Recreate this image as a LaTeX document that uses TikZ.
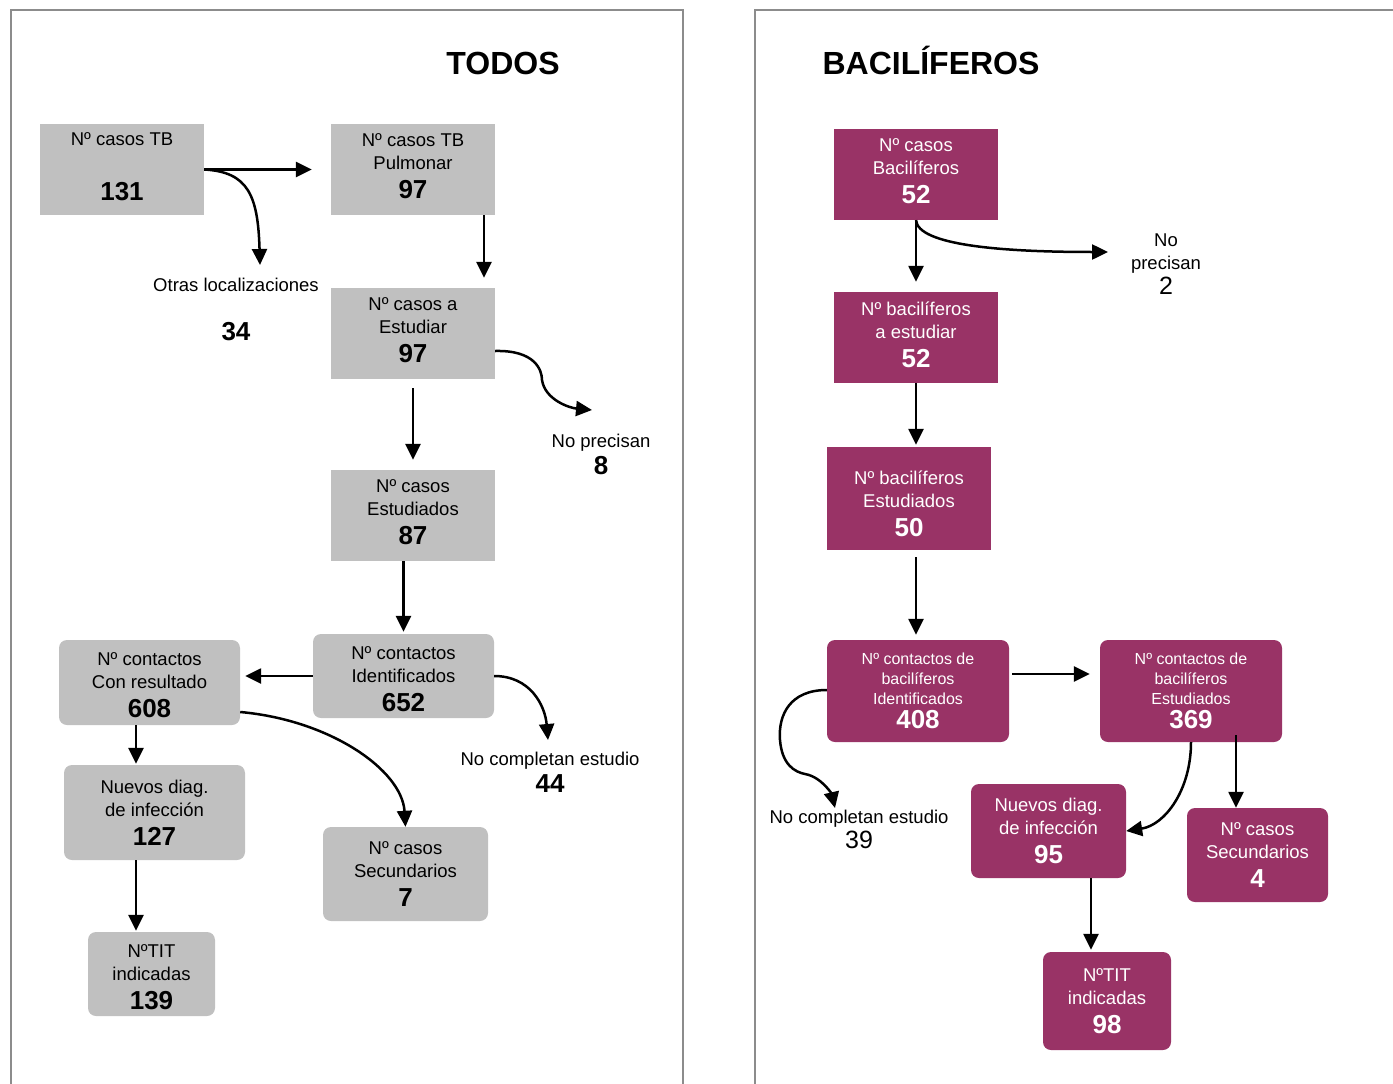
\documentclass[tikz,border=0pt]{standalone}
\usepackage{fontspec}
\setmainfont{Liberation Sans}
\usetikzlibrary{arrows.meta}
\definecolor{grisbox}{HTML}{C0C0C0}
\definecolor{vino}{HTML}{993366}
\definecolor{marco}{HTML}{8C8C8C}
\newcommand{\cifra}[1]{{\fontsize{26}{30}\selectfont\bfseries #1}}
\newcommand{\cifrafina}[1]{{\fontsize{25}{30}\selectfont #1}}
\begin{document}
\begin{tikzpicture}[x=1pt, y=-1pt,
	caja/.style = {fill=grisbox, align=center, inner sep=0pt, font=\fontsize{18.5}{23}\selectfont},
	cuadrada/.style = {text depth=6pt},
	cajar/.style = {caja, rounded corners=8pt},
	cajav/.style = {caja, fill=vino, text=white},
	cajavr/.style = {cajav, rounded corners=8pt},
	chica/.style = {font=\fontsize{16}{20}\selectfont},
	etiq/.style = {align=center, inner sep=0pt, font=\fontsize{18.5}{23}\selectfont},
	flecha/.style = {line width=2.5pt, -{Triangle[length=16pt,width=15pt]}},
	titulo/.style = {font=\fontsize{32}{38}\selectfont\bfseries}]
	\useasboundingbox (0,0) rectangle (1393,1084);
	% marcos
	\draw [marco, line width=2pt] (11,1084) -- (11,10) -- (683,10) -- (683,1084);
	\draw [marco, line width=2pt] (755,1084) -- (755,10) -- (1393,10);
	% TODOS
	\node [titulo] (tTodos) at (503,63) {TODOS};
	\node [caja, cuadrada, minimum width=164, minimum height=91] (tb) at (122,169.5) {Nº casos TB\\[32pt]\cifra{131}};
	\node [caja, cuadrada, minimum width=164, minimum height=91] (pulm) at (413,169.5) {Nº casos TB\\Pulmonar\\[6pt]\cifra{97}};
	\node [caja, cuadrada, minimum width=164, minimum height=91] (aest) at (413,333.5) {Nº casos a\\Estudiar\\[6pt]\cifra{97}};
	\node [caja, cuadrada, minimum width=164, minimum height=91] (estu) at (413,515.5) {Nº casos\\Estudiados\\[6pt]\cifra{87}};
	\node [cajar, minimum width=181, minimum height=84] (ident) at (403.5,676) {\rule{0pt}{20pt}Nº contactos\\Identificados\\[6pt]\cifra{652}};
	\node [cajar, minimum width=181, minimum height=85] (result) at (149.5,682.5) {\rule{0pt}{18pt}Nº contactos\\Con resultado\\[6pt]\cifra{608}};
	\node [cajar, minimum width=181, minimum height=95] (nuevos) at (154.5,812.5) {Nuevos diag.\\de infección\\[6pt]\cifra{127}};
	\node [cajar, minimum width=165, minimum height=94] (secun) at (405.5,874) {Nº casos\\Secundarios\\[6pt]\cifra{7}};
	\node [cajar, minimum width=127, minimum height=84] (tit) at (151.5,974) {\rule{0pt}{20pt}NºTIT\\indicadas\\[6pt]\cifra{139}};
	\node [etiq] (otras) at (236,285) {Otras localizaciones};
	\node [etiq] (otrasN) at (236,332) {\cifra{34}};
	\node [etiq] (noprec) at (601,454) {No precisan\\[4pt]\cifra{8}};
	\node [etiq] (nocomp) at (550,772) {No completan estudio\\[4pt]\cifra{44}};
	\coordinate (fOtras) at (260,265);
	\coordinate (fNoprec) at (592,410);
	\coordinate (fNocomp) at (548,740);
	\draw [flecha, shorten >=19pt] (tb.east) -- (pulm.west);
	\draw [flecha] (tb.east) .. controls (248,172) and (258,195) .. (fOtras);
	\draw [flecha, shorten >=10pt] ([xshift=71pt]pulm.south) -- ([xshift=71pt]aest.north);
	\draw [flecha] ([yshift=-17.5pt]aest.east) .. controls (535,350) and (542,370) .. (542,380) .. controls (545,400) and (570,408) .. (fNoprec);
	\draw [flecha, shorten <=9pt, shorten >=10pt] (aest.south) -- (estu.north);
	\draw [flecha, shorten >=2pt] (estu.south -| ident.north) -- (ident.north);
	\draw [flecha, shorten >=5pt] (ident.west) -- (ident.west -| result.east);
	\draw [flecha] (ident.east) .. controls (530,676) and (545,705) .. (fNocomp);
	\draw [flecha] ([yshift=-29.5pt]result.east) .. controls (330,720) and (402,770) .. (secun.north);
	\draw [flecha, shorten >=1pt] ([xshift=-13.5pt]result.south) -- ([xshift=-13.5pt]result.south |- nuevos.north);
	\draw [flecha, shorten >=1pt] ([xshift=-18.5pt]nuevos.south) -- ([xshift=-18.5pt]nuevos.south |- tit.north);
	% BACILIFEROS
	\node [titulo] (tBacil) at (931,60) {BACILÍFEROS};
	\node [cajav, cuadrada, minimum width=164, minimum height=91] (bac) at (916,174.5) {Nº casos\\Bacilíferos\\[6pt]\cifra{52}};
	\node [cajav, cuadrada, minimum width=164, minimum height=91] (bacEst) at (916,337.5) {Nº bacilíferos\\a estudiar\\[6pt]\cifra{52}};
	\node [cajav, minimum width=164, minimum height=103] (bacEdos) at (909,498.5) {\rule{0pt}{25pt}Nº bacilíferos\\Estudiados\\[6pt]\cifra{50}};
	\node [cajavr, chica, minimum width=182, minimum height=102] (contId) at (918,691) {Nº contactos de\\bacilíferos\\Identificados\\[4pt]\cifra{408}};
	\node [cajavr, chica, minimum width=182, minimum height=102] (contEs) at (1191,691) {Nº contactos de\\bacilíferos\\Estudiados\\[4pt]\cifra{369}};
	\node [cajavr, minimum width=155, minimum height=94] (bNuevos) at (1048.5,831) {Nuevos diag.\\de infección\\[6pt]\cifra{95}};
	\node [cajavr, minimum width=141, minimum height=94] (bSecun) at (1257.5,855) {Nº casos\\Secundarios\\[6pt]\cifra{4}};
	\node [cajavr, minimum width=128, minimum height=98] (bTit) at (1107,1001) {NºTIT\\indicadas\\[6pt]\cifra{98}};
	\node [etiq] (bNoprec) at (1166,264) {No\\precisan\\[2pt]\cifrafina{2}};
	\node [etiq] (bNocomp) at (859,829) {No completan estudio\\[2pt]\cifrafina{39}};
	\coordinate (fbNoprec) at (1108,252);
	\coordinate (fbNocomp) at (835,808);
	\draw [flecha, shorten >=10pt] (bac.south) -- (bacEst.north);
	\draw [flecha] (bac.south) .. controls (918,245) and (1000,252) .. (fbNoprec);
	\draw [flecha, shorten >=2pt] (bacEst.south) -- (bacEst.south |- bacEdos.north);
	\draw [flecha, shorten <=7pt, shorten >=5pt] ([xshift=7pt]bacEdos.south) -- ([xshift=7pt]bacEdos.south |- contId.north);
	\draw [flecha, shorten <=3pt, shorten >=10pt] ([yshift=17pt]contId.east) -- ([yshift=17pt]contEs.west);
	\draw [flecha] ([yshift=1pt]contId.west) .. controls (790,690) and (778,715) .. (780,740) .. controls (782,765) and (795,772) .. (805,774) .. controls (822,777) and (832,795) .. (fbNocomp);
	\draw [flecha] (contEs.south) .. controls (1191,790) and (1165,825) .. (bNuevos.east);
	\draw [flecha] ([xshift=45pt,yshift=7pt]contEs.south) -- ([xshift=45pt]contEs.south |- bSecun.north);
	\draw [flecha, shorten >=2pt] ([xshift=42.5pt]bNuevos.south) -- ([xshift=42.5pt]bNuevos.south |- bTit.north);
\end{tikzpicture}
\end{document}
